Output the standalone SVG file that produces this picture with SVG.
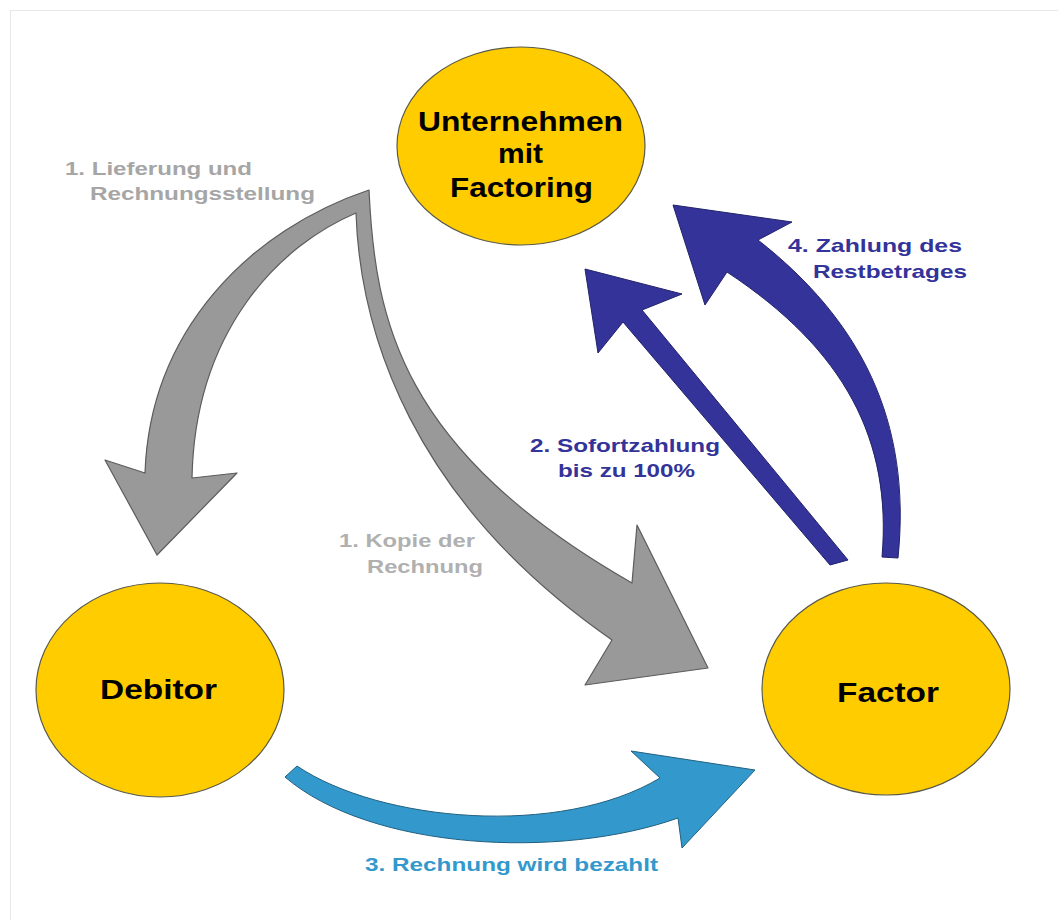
<svg xmlns="http://www.w3.org/2000/svg" width="1058" height="920" viewBox="0 0 1058 920">
<style>
.node{fill:#ffcc00;stroke:#5a5a4a;stroke-width:1.2}
.nt{font-family:"Liberation Sans",Arial,sans-serif;font-weight:bold;font-size:27px;fill:#000}
.lbl{font-family:"Liberation Sans",Arial,sans-serif;font-weight:bold;font-size:19px}
.gray{fill:#999999;stroke:#5c5c5c;stroke-width:1.2;stroke-linejoin:round}
.dblue{fill:#333399;stroke:#22226a;stroke-width:1;stroke-linejoin:round}
.lblue{fill:#3399cc;stroke:#22607f;stroke-width:1;stroke-linejoin:round}
</style>
<rect x="0" y="0" width="1058" height="920" fill="#ffffff"/>
<rect x="10.5" y="10.5" width="1200" height="1000" fill="none" stroke="#e8e8e8" stroke-width="1"/>
<g id="connectors">
  <path class="gray" d="M356,213 C280,245 195,330 192,478 L237,473 L157,555 L105,460 L145,473 C150,330 250,230 369,190 C375,320 400,450 632,583 L637,525 L708,668 L585,685 L612,640 C410,500 360,330 356,213 Z"/>
  <path class="dblue" d="M830,565 L848,560 L642,310 L682,294 L585,269 L598,353 L623,322 Z"/>
  <path class="dblue" d="M882,557 L898,558 C912,420 860,320 758,240 L792,222 L673,205 L705,305 L727,272 C845,350 892,440 882,557 Z"/>
  <path class="lblue" d="M285,777 L297,766 C380,822 560,838 660,778 L631,751 L755,770 L682,848 L678,818 C560,860 370,850 285,777 Z"/>
  <text class="lbl" fill="#a6a6a6" x="65" y="175" textLength="187" lengthAdjust="spacingAndGlyphs">1. Lieferung und</text>
  <text class="lbl" fill="#a6a6a6" x="90" y="200" textLength="225" lengthAdjust="spacingAndGlyphs">Rechnungsstellung</text>
  <text class="lbl" fill="#b0b0b0" x="339" y="547" textLength="136" lengthAdjust="spacingAndGlyphs">1. Kopie der</text>
  <text class="lbl" fill="#b0b0b0" x="367" y="573" textLength="116" lengthAdjust="spacingAndGlyphs">Rechnung</text>
  <text class="lbl" fill="#333399" x="530" y="452" textLength="190" lengthAdjust="spacingAndGlyphs">2. Sofortzahlung</text>
  <text class="lbl" fill="#333399" x="558" y="477" textLength="137" lengthAdjust="spacingAndGlyphs">bis zu 100%</text>
  <text class="lbl" fill="#333399" x="788" y="252" textLength="174" lengthAdjust="spacingAndGlyphs">4. Zahlung des</text>
  <text class="lbl" fill="#333399" x="813" y="278" textLength="154" lengthAdjust="spacingAndGlyphs">Restbetrages</text>
  <text class="lbl" fill="#3399cc" x="365" y="871" textLength="293" lengthAdjust="spacingAndGlyphs">3. Rechnung wird bezahlt</text>
</g>
<g id="unternehmen">
  <ellipse class="node" cx="521" cy="146" rx="124" ry="99"/>
  <text class="nt" x="418" y="131" textLength="205" lengthAdjust="spacingAndGlyphs">Unternehmen</text>
  <text class="nt" x="498" y="163" textLength="45" lengthAdjust="spacingAndGlyphs">mit</text>
  <text class="nt" x="450" y="197" textLength="143" lengthAdjust="spacingAndGlyphs">Factoring</text>
</g>
<g id="debitor">
  <ellipse class="node" cx="160" cy="690" rx="124" ry="107"/>
  <text class="nt" x="100" y="699" textLength="117" lengthAdjust="spacingAndGlyphs">Debitor</text>
</g>
<g id="factor">
  <ellipse class="node" cx="886" cy="689" rx="124" ry="106"/>
  <text class="nt" x="837" y="702" textLength="102" lengthAdjust="spacingAndGlyphs">Factor</text>
</g>
</svg>
